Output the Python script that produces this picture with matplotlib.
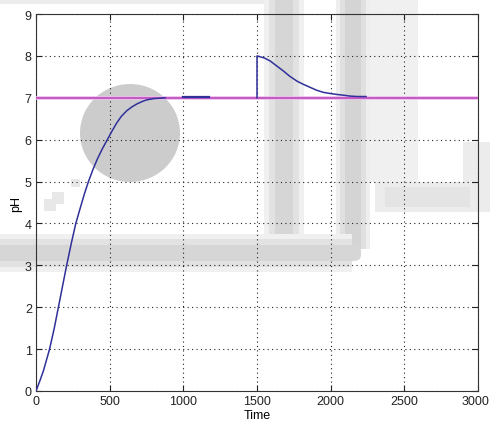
import matplotlib.pyplot as plt
from matplotlib.patches import Rectangle, Ellipse, FancyBboxPatch
from matplotlib.transforms import ScaledTranslation

# ph response, first rise
t_rise = [0, 27, 52, 92, 124, 152, 180, 208, 238, 270, 298, 328, 356, 388, 418, 450,
          484, 515, 548, 580, 616, 650, 683, 720, 751, 800, 842, 877]
ph_rise = [0, 0.25, 0.5, 1.0, 1.5, 2.0, 2.5, 3.0, 3.5, 4.0, 4.34, 4.7, 5.0, 5.3, 5.55, 5.78,
           6.0, 6.2, 6.4, 6.56, 6.69, 6.78, 6.85, 6.91, 6.95, 6.98, 6.99, 7.0]

# short segment near setpoint
t_mid = [1000, 1175]
ph_mid = [7.02, 7.02]

# disturbance at 1500 and recovery
t_dist = [1500, 1500, 1520, 1550, 1589, 1630, 1679, 1720, 1770, 1815, 1860, 1905, 1950,
          2000, 2041, 2090, 2132, 2180, 2240]
ph_dist = [7.0, 8.0, 7.98, 7.95, 7.88, 7.77, 7.64, 7.52, 7.4, 7.32, 7.25, 7.18, 7.13,
           7.1, 7.08, 7.06, 7.04, 7.03, 7.03]

# setpoint
t_sp = [0, 3000]
ph_sp = [7, 7]

xticks = [0, 500, 1000, 1500, 2000, 2500, 3000]
yticks = [0, 1, 2, 3, 4, 5, 6, 7, 8, 9]

W, H = 490, 427
plt.rcParams['font.family'] = ['Liberation Sans', 'DejaVu Sans']

fig = plt.figure(figsize=(W / 100, H / 100), dpi=100)
ax = fig.add_axes([36 / W, 1 - 392 / H, 442 / W, 377 / H])


def px_rect(x0, y0, x1, y1, color, **kw):
    # pixel box (top-left origin) -> figure fraction rectangle
    r = Rectangle((x0 / W, 1 - y1 / H), (x1 - x0) / W, (y1 - y0) / H,
                  transform=fig.transFigure, facecolor=color, edgecolor='none',
                  clip_on=False, zorder=0.5, **kw)
    ax.add_patch(r)


# background watermark (grey logo behind the plot), soft edges by stacking
px_rect(0, 0, 272, 5, '#ececec')
px_rect(363, 0, 418, 183, '#f0f0f0')
px_rect(375, 183, 490, 213, '#ececec')
px_rect(385, 188, 470, 208, '#e4e4e4')
px_rect(463, 143, 490, 183, '#ececec')
px_rect(264, 0, 304, 246, '#f0f0f0')
px_rect(269, 0, 299, 246, '#e2e2e2')
px_rect(275, 0, 293, 246, '#d6d6d6')
px_rect(336, 0, 370, 250, '#eeeeee')
px_rect(340, 0, 366, 250, '#e0e0e0')
px_rect(345, 0, 361, 250, '#d4d4d4')
px_rect(0, 235, 352, 273, '#f0f0f0')
px_rect(0, 240, 352, 268, '#e2e2e2')
px_rect(0, 246, 352, 262, '#d6d6d6')
ax.add_patch(FancyBboxPatch((345 / W, 1 - 262 / H), 16 / W, 16 / H,
                            boxstyle='round,pad=0,rounding_size=0.015',
                            transform=fig.transFigure, facecolor='#d6d6d6',
                            edgecolor='none', clip_on=False, zorder=0.5))
px_rect(44, 200, 56, 212, '#e8e8e8')
px_rect(52, 193, 64, 205, '#e8e8e8')
px_rect(71, 180, 80, 188, '#e8e8e8')
ax.add_patch(Ellipse((130 / W, 1 - 134 / H), 100 / W, 98 / H,
                     transform=fig.transFigure, facecolor='#cccccc',
                     edgecolor='none', clip_on=False, zorder=0.5))

ax.plot(t_sp, ph_sp, color='#ecbcec', lw=2.6, zorder=3)
ax.plot(t_sp, ph_sp, color='#b840b8', lw=1.1, zorder=3)
ax.plot(t_rise, ph_rise, color='#30309a', lw=1.1, zorder=4)
ax.plot(t_mid, ph_mid, color='#30309a', lw=1.6, zorder=4)
ax.plot(t_dist, ph_dist, color='#30309a', lw=1.1, zorder=4)

ax.set_xlim(0, 3000)
ax.set_ylim(0, 9)
ax.set_xticks(xticks)
ax.set_yticks(yticks)
ax.patch.set_alpha(0)
ax.tick_params(direction='in', length=4, width=0.8, top=True, right=True,
               labelsize=9, colors='#222222', pad=3)
ax.grid(True, linestyle=(0, (1, 3)), color='#222222', linewidth=0.8)
for s in ax.spines.values():
    s.set_color('#333333')
    s.set_linewidth(0.8)

# keep the last x label inside the figure
last = ax.get_xticklabels()[-1]
last.set_transform(last.get_transform() + ScaledTranslation(-3 / 100, 0, fig.dpi_scale_trans))

ax.set_xlabel('Time', fontsize=9, labelpad=1)
ax.set_ylabel('pH', fontsize=9, labelpad=2)

fig.savefig('out.png', dpi=100)
